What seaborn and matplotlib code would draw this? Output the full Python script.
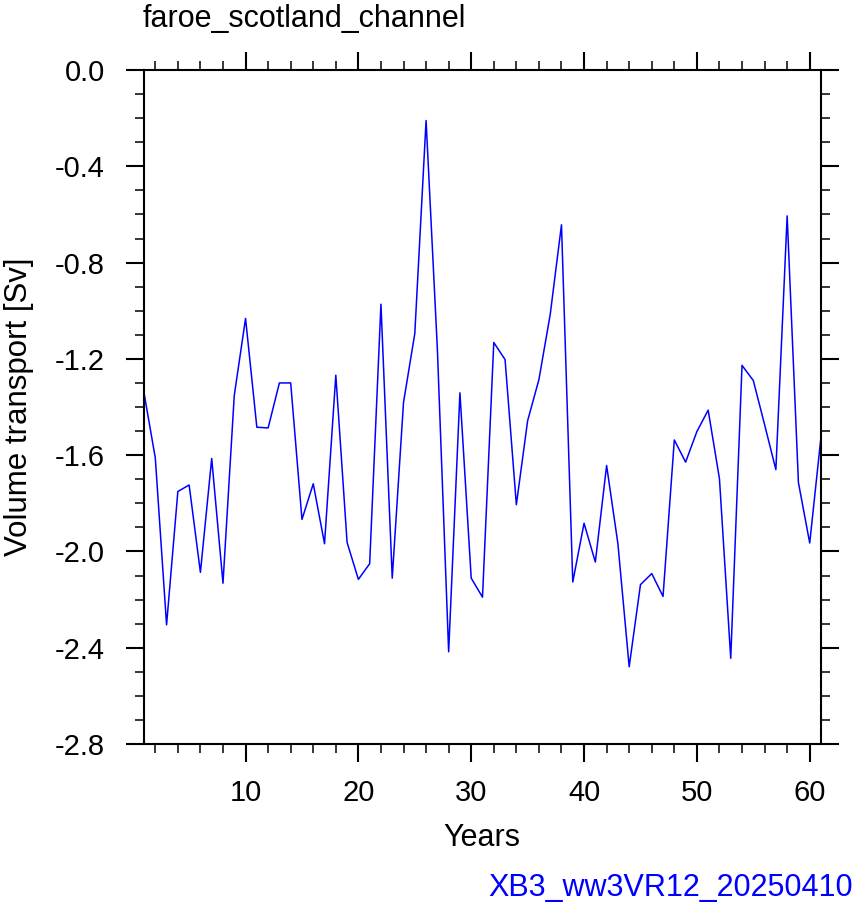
import numpy as np
import pandas as pd
import matplotlib
matplotlib.use("Agg")
import matplotlib.pyplot as plt
import seaborn as sns
from matplotlib.ticker import MultipleLocator, FixedLocator

years = list(range(1, 62))
transport = [
    -1.341, -1.611, -2.305, -1.751, -1.724, -2.087, -1.614, -2.132, -1.352, -1.032,
    -1.484, -1.487, -1.300, -1.300, -1.867, -1.719, -1.968, -1.268, -1.963, -2.116,
    -2.051, -0.973, -2.111, -1.381, -1.095, -0.210, -1.159, -2.417, -1.341, -2.111,
    -2.190, -1.132, -1.203, -1.806, -1.457, -1.286, -1.016, -0.643, -2.127, -1.883,
    -2.044, -1.643, -1.968, -2.479, -2.138, -2.092, -2.187, -1.537, -1.629, -1.502,
    -1.413, -1.698, -2.444, -1.227, -1.290, -1.473, -1.660, -0.606, -1.714, -1.965,
    -1.524,
]
x_major = [10, 20, 30, 40, 50, 60]
y_major = [0.0, -0.4, -0.8, -1.2, -1.6, -2.0, -2.4, -2.8]
title = "faroe_scotland_channel"
xlabel = "Years"
ylabel = "Volume transport [Sv]"
footer = "XB3_ww3VR12_20250410"

df = pd.DataFrame({"year": years, "transport": transport})

sns.set_style("white")
plt.rcParams["font.family"] = ["Liberation Sans", "DejaVu Sans"]
plt.rcParams["text.color"] = "black"
plt.rcParams["axes.labelcolor"] = "black"
plt.rcParams["xtick.color"] = "black"
plt.rcParams["ytick.color"] = "black"

fig = plt.figure(figsize=(8.58, 9.11), dpi=100)
ax = fig.add_axes([144 / 858, 1 - 744 / 911, (821 - 144) / 858, (744 - 70) / 911])

sns.lineplot(data=df, x="year", y="transport", ax=ax, color="#0000ff", linewidth=1.1)

ax.set_xlim(1, 61)
ax.set_ylim(-2.8, 0.0)
ax.xaxis.set_major_locator(FixedLocator(x_major))
ax.xaxis.set_minor_locator(MultipleLocator(2))
ax.yaxis.set_major_locator(FixedLocator(y_major))
ax.yaxis.set_minor_locator(MultipleLocator(0.1))
ax.set_yticklabels([f"{v:.1f}" for v in y_major])

for s in ax.spines.values():
    s.set_visible(True)
    s.set_color("black")
    s.set_linewidth(1.5)

ax.tick_params(which="major", direction="out", length=13, width=1.5,
               top=True, right=True, bottom=True, left=True,
               labeltop=False, labelright=False, labelsize=21,
               colors="black", labelcolor="black")
ax.tick_params(which="minor", direction="out", length=6.5, width=1.1,
               top=True, right=True, bottom=True, left=True)
ax.tick_params(axis="x", which="major", pad=12)
ax.tick_params(axis="y", which="major", pad=15)

ax.set_xlabel(xlabel, fontsize=22, color="black")
ax.set_ylabel(ylabel, fontsize=22.5, color="black")
ax.xaxis.set_label_coords((482 - 144) / 677, (744 - 823) / 674)
ax.yaxis.set_label_coords((34 - 144) / 677, 0.5)

fig.text(143 / 858, 1 - 19 / 911, title, fontsize=22, ha="left", va="center", color="black")
fig.text(853 / 858, 1 - 888 / 911, footer, fontsize=22, ha="right", va="center", color="#0000ff")

fig.savefig("out.png", dpi=100)
